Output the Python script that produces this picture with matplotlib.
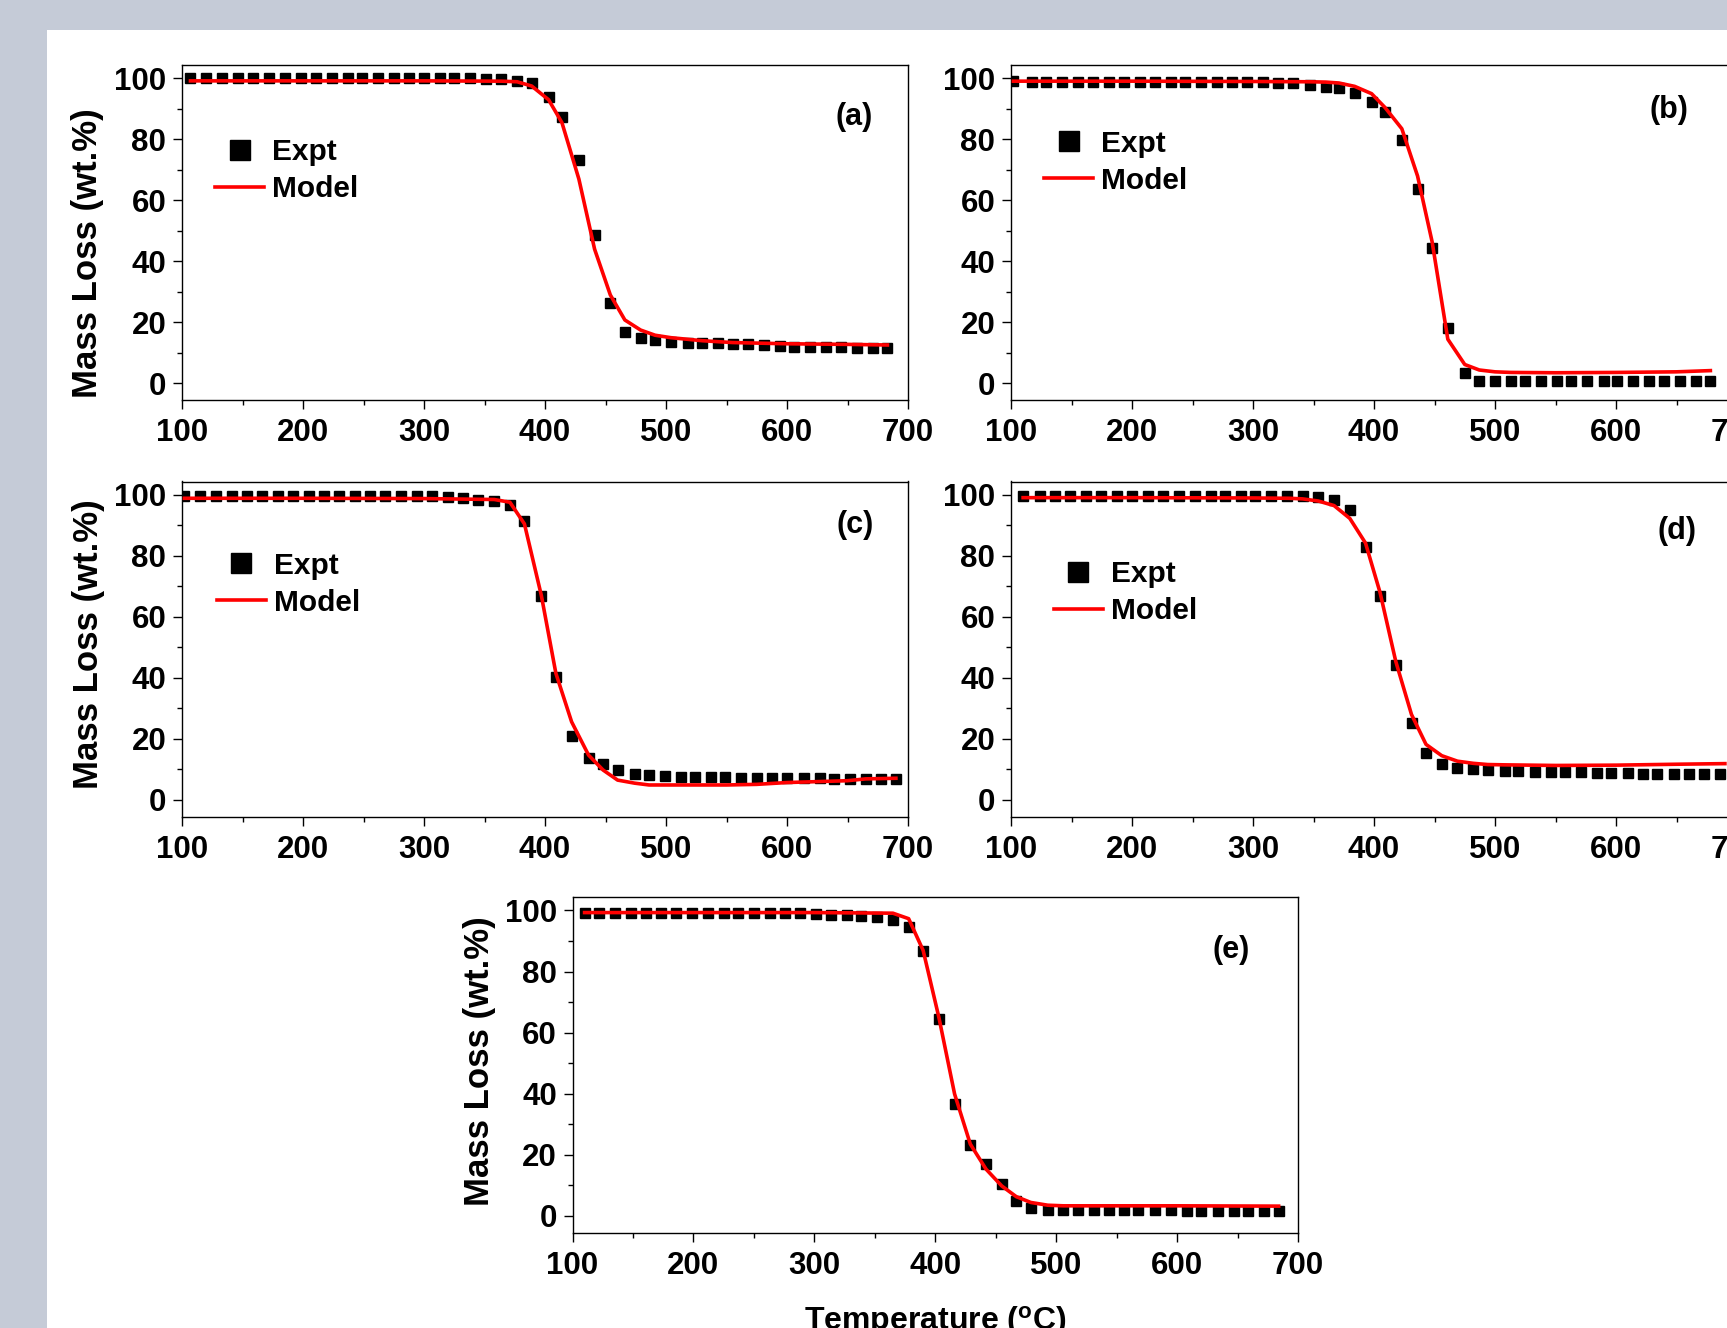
import matplotlib
matplotlib.use('Agg')
import matplotlib.pyplot as plt
from matplotlib.patches import Rectangle
from matplotlib.ticker import MultipleLocator

plt.rcParams['font.family'] = 'Liberation Sans'
plt.rcParams['font.weight'] = 'bold'
plt.rcParams['axes.labelweight'] = 'bold'
plt.rcParams['mathtext.fontset'] = 'custom'
plt.rcParams['mathtext.rm'] = 'Liberation Sans:bold'
plt.rcParams['mathtext.default'] = 'rm'

# ---- data ----
# (a)
ta = [107, 120, 133, 146, 159, 172, 185, 198, 211, 224, 237, 249, 262, 275, 288,
      300, 313, 325, 338, 351, 364, 377, 389, 403, 414, 428, 441, 454, 466, 479,
      491, 504, 518, 530, 543, 555, 568, 581, 594, 606, 619, 632, 645, 658, 671, 683]
ya = [100.0, 100.0, 100.0, 100.0, 100.0, 100.0, 100.0, 100.0, 100.0, 100.0,
      100.0, 100.0, 100.0, 100.0, 100.0, 100.0, 100.0, 100.0, 100.0, 99.8,
      99.7, 99.3, 98.4, 94.0, 87.4, 73.2, 48.6, 26.5, 16.9, 15.0,
      14.2, 13.7, 13.4, 13.2, 13.1, 12.9, 12.8, 12.6, 12.3, 12.1,
      12.0, 11.9, 11.8, 11.7, 11.5, 11.5]
tma = [107, 200, 300, 364, 377, 389, 403, 414, 428, 441, 454, 466, 479, 491, 504,
       530, 555, 600, 650, 683]
yma = [99.2, 99.2, 99.2, 99.1, 98.9, 97.5, 93.0, 85.5, 67.0, 44.0, 29.0, 20.8,
       17.5, 15.8, 15.0, 14.0, 13.4, 13.0, 12.8, 12.6]

# (b)
tb = [102, 117, 129, 142, 155, 168, 181, 193, 207, 219, 232, 244, 257, 270, 283,
      295, 308, 321, 333, 347, 360, 371, 384, 398, 409, 423, 436, 448, 461, 475,
      487, 500, 513, 525, 538, 551, 563, 576, 590, 601, 614, 627, 640, 653, 666, 678]
yb = [99.1, 98.9, 98.9, 98.9, 98.9, 98.9, 98.9, 98.9, 98.9, 98.9,
      98.9, 98.9, 98.9, 98.9, 98.9, 98.9, 98.7, 98.6, 98.4, 97.8,
      97.3, 96.7, 95.3, 92.3, 88.9, 79.8, 63.9, 44.3, 18.3, 3.3,
      0.9, 0.8, 0.8, 0.8, 0.8, 0.8, 0.8, 0.8, 0.8, 0.8,
      0.8, 0.8, 0.8, 0.8, 0.8, 0.8]
tmb = [102, 200, 300, 347, 360, 371, 384, 398, 409, 423, 436, 448, 461, 475, 487,
       500, 513, 550, 600, 650, 678]
ymb = [99.1, 99.1, 99.0, 98.9, 98.8, 98.5, 97.4, 95.0, 90.5, 83.5, 68.0, 46.5,
       14.5, 6.2, 4.4, 3.8, 3.6, 3.5, 3.6, 3.8, 4.2]

# (c)
tc = [102, 115, 128, 141, 154, 166, 179, 192, 205, 217, 230, 243, 255, 268, 281,
      294, 307, 320, 332, 345, 358, 371, 383, 397, 409, 422, 436, 448, 460, 474,
      486, 499, 512, 524, 537, 549, 562, 575, 588, 600, 614, 627, 639, 652, 665,
      678, 690]
yc = [99.8, 99.8, 99.8, 99.8, 99.8, 99.8, 99.8, 99.8, 99.8, 99.8,
      99.8, 99.8, 99.8, 99.8, 99.8, 99.8, 99.6, 99.2, 98.9, 98.4,
      98.1, 96.7, 91.6, 66.8, 40.3, 20.9, 13.6, 11.7, 9.8, 8.5,
      8.2, 8.0, 7.6, 7.5, 7.5, 7.4, 7.3, 7.3, 7.3, 7.2,
      7.2, 7.1, 7.0, 7.0, 6.9, 6.9, 6.7]
tmc = [102, 200, 300, 358, 371, 383, 397, 409, 422, 436, 448, 460, 474, 486, 500,
       550, 575, 600, 625, 650, 665, 690]
ymc = [98.9, 98.9, 98.8, 98.5, 97.6, 90.5, 67.0, 41.5, 25.6, 14.7, 9.8, 6.5,
       5.5, 4.9, 4.9, 4.9, 5.1, 5.7, 6.0, 6.3, 6.9, 7.1]

# (d)
td = [110, 124, 136, 149, 162, 174, 188, 200, 213, 226, 239, 252, 265, 277, 290,
      302, 315, 328, 341, 354, 367, 380, 393, 405, 418, 431, 443, 456, 469, 482,
      494, 508, 519, 533, 546, 558, 571, 584, 596, 610, 622, 634, 648, 660, 673, 686]
yd = [99.7, 99.8, 99.8, 99.8, 99.8, 99.8, 99.8, 99.8, 99.8, 99.8,
      99.8, 99.8, 99.8, 99.8, 99.8, 99.8, 99.8, 99.8, 99.5, 99.2,
      98.4, 95.1, 82.8, 66.7, 44.3, 25.1, 15.3, 11.7, 10.6, 10.2,
      9.8, 9.6, 9.5, 9.3, 9.2, 9.1, 9.0, 8.9, 8.8, 8.8,
      8.6, 8.5, 8.5, 8.4, 8.4, 8.4]
tmd = [110, 200, 300, 330, 341, 354, 367, 380, 393, 405, 418, 431, 443, 456, 469,
       482, 494, 508, 550, 600, 650, 690]
ymd = [99.1, 99.1, 99.0, 98.9, 98.7, 98.0, 96.5, 92.3, 84.2, 68.0, 45.4, 28.0,
       18.2, 14.5, 12.7, 12.0, 11.6, 11.5, 11.3, 11.4, 11.7, 11.9]

# (e)
te = [110, 122, 135, 148, 161, 173, 186, 199, 212, 225, 237, 250, 263, 276, 288,
      301, 314, 327, 339, 352, 365, 378, 390, 403, 416, 429, 442, 455, 467, 479,
      493, 506, 518, 531, 544, 556, 568, 582, 595, 608, 620, 634, 647, 659, 672, 684]
ye = [99.1, 99.1, 99.1, 99.1, 99.1, 99.1, 99.1, 99.1, 99.1, 99.1,
      99.1, 99.1, 99.1, 99.1, 99.1, 98.9, 98.6, 98.4, 98.1, 97.8,
      97.0, 94.5, 86.7, 64.5, 36.6, 23.2, 16.9, 10.4, 4.9, 2.7,
      2.0, 1.9, 1.8, 1.8, 1.8, 1.8, 1.8, 1.8, 1.8, 1.7,
      1.7, 1.7, 1.7, 1.6, 1.6, 1.6]
tme = [110, 200, 300, 365, 378, 390, 403, 416, 429, 442, 455, 467, 479, 493, 506,
       530, 600, 684]
yme = [99.3, 99.3, 99.3, 99.1, 97.3, 86.9, 65.0, 39.9, 23.5, 15.3, 9.8, 6.3,
       4.4, 3.5, 3.3, 3.3, 3.3, 3.2]

W, H = 1727, 1328
fig = plt.figure(figsize=(W / 100, H / 100), dpi=100, facecolor='#c5cbd7')
# white slide area behind the panels
fig.patches.append(Rectangle((47 / W, 0), 1 - 47 / W, 1 - 30 / H, transform=fig.transFigure,
                             facecolor='white', edgecolor='none', zorder=-10))


def add_panel(l, t, r, b):
    ax = fig.add_axes([l / W, 1 - b / H, (r - l) / W, (b - t) / H])
    ax.set_zorder(1)
    return ax


def draw(ax, t, y, tm, ym, tag, tagpos, legpos=None, ylab=None):
    ax.plot(t, y, 's', color='black', markersize=7, linestyle='None', label='Expt', zorder=2)
    ax.plot(tm, ym, '-', color='red', linewidth=2.6, label='Model', zorder=3)
    ax.set_xlim(100, 700)
    ax.set_ylim(-5.6, 104.4)
    ax.xaxis.set_major_locator(MultipleLocator(100))
    ax.xaxis.set_minor_locator(MultipleLocator(50))
    ax.yaxis.set_major_locator(MultipleLocator(20))
    ax.yaxis.set_minor_locator(MultipleLocator(10))
    ax.tick_params(which='both', direction='out', width=1.0, labelsize=22.5)
    ax.tick_params(which='major', length=6.3)
    ax.tick_params(which='minor', length=3.5)
    ax.tick_params(axis='x', pad=6.5)
    ax.tick_params(axis='y', pad=5)
    for s in ax.spines.values():
        s.set_linewidth(1.0)
    ax.text(tagpos[0], tagpos[1], tag, transform=ax.transAxes, ha='center', va='center', fontsize=22)
    if legpos is not None:
        ax.legend(loc='upper left', bbox_to_anchor=legpos, frameon=False, fontsize=21.5,
                  borderpad=0, borderaxespad=0, handlelength=1.65, handletextpad=0.25,
                  labelspacing=0.3, markerscale=2.0)
    if ylab is not None:
        ax.set_ylabel('Mass Loss (wt.%)', fontsize=25, fontweight='bold')
        ax.yaxis.set_label_coords(ylab[0], ylab[1])


ax_a = add_panel(182, 65, 908, 400.5)
draw(ax_a, ta, ya, tma, yma, '(a)', (0.926, 0.845), (0.0455, 0.782), (-0.108, 0.44))

ax_b = add_panel(1011, 65, 1737, 400.5)
draw(ax_b, tb, yb, tmb, ymb, '(b)', (0.906, 0.866), (0.0455, 0.807))

ax_c = add_panel(182, 481.5, 908, 817)
draw(ax_c, tc, yc, tmc, ymc, '(c)', (0.927, 0.869), (0.048, 0.7905), (-0.106, 0.516))

ax_d = add_panel(1011, 481.5, 1737, 817)
draw(ax_d, td, yd, tmd, ymd, '(d)', (0.918, 0.853), (0.059, 0.765))

ax_e = add_panel(572.5, 897, 1298, 1233)
draw(ax_e, te, ye, tme, yme, '(e)', (0.908, 0.841), None, (-0.105, 0.512))
ax_e.set_xlabel('Temperature ($^{o}$C)', fontsize=23, fontweight='bold')
ax_e.xaxis.set_label_coords(0.5, -0.21)

fig.savefig('out.png', dpi=100, facecolor=fig.get_facecolor())
